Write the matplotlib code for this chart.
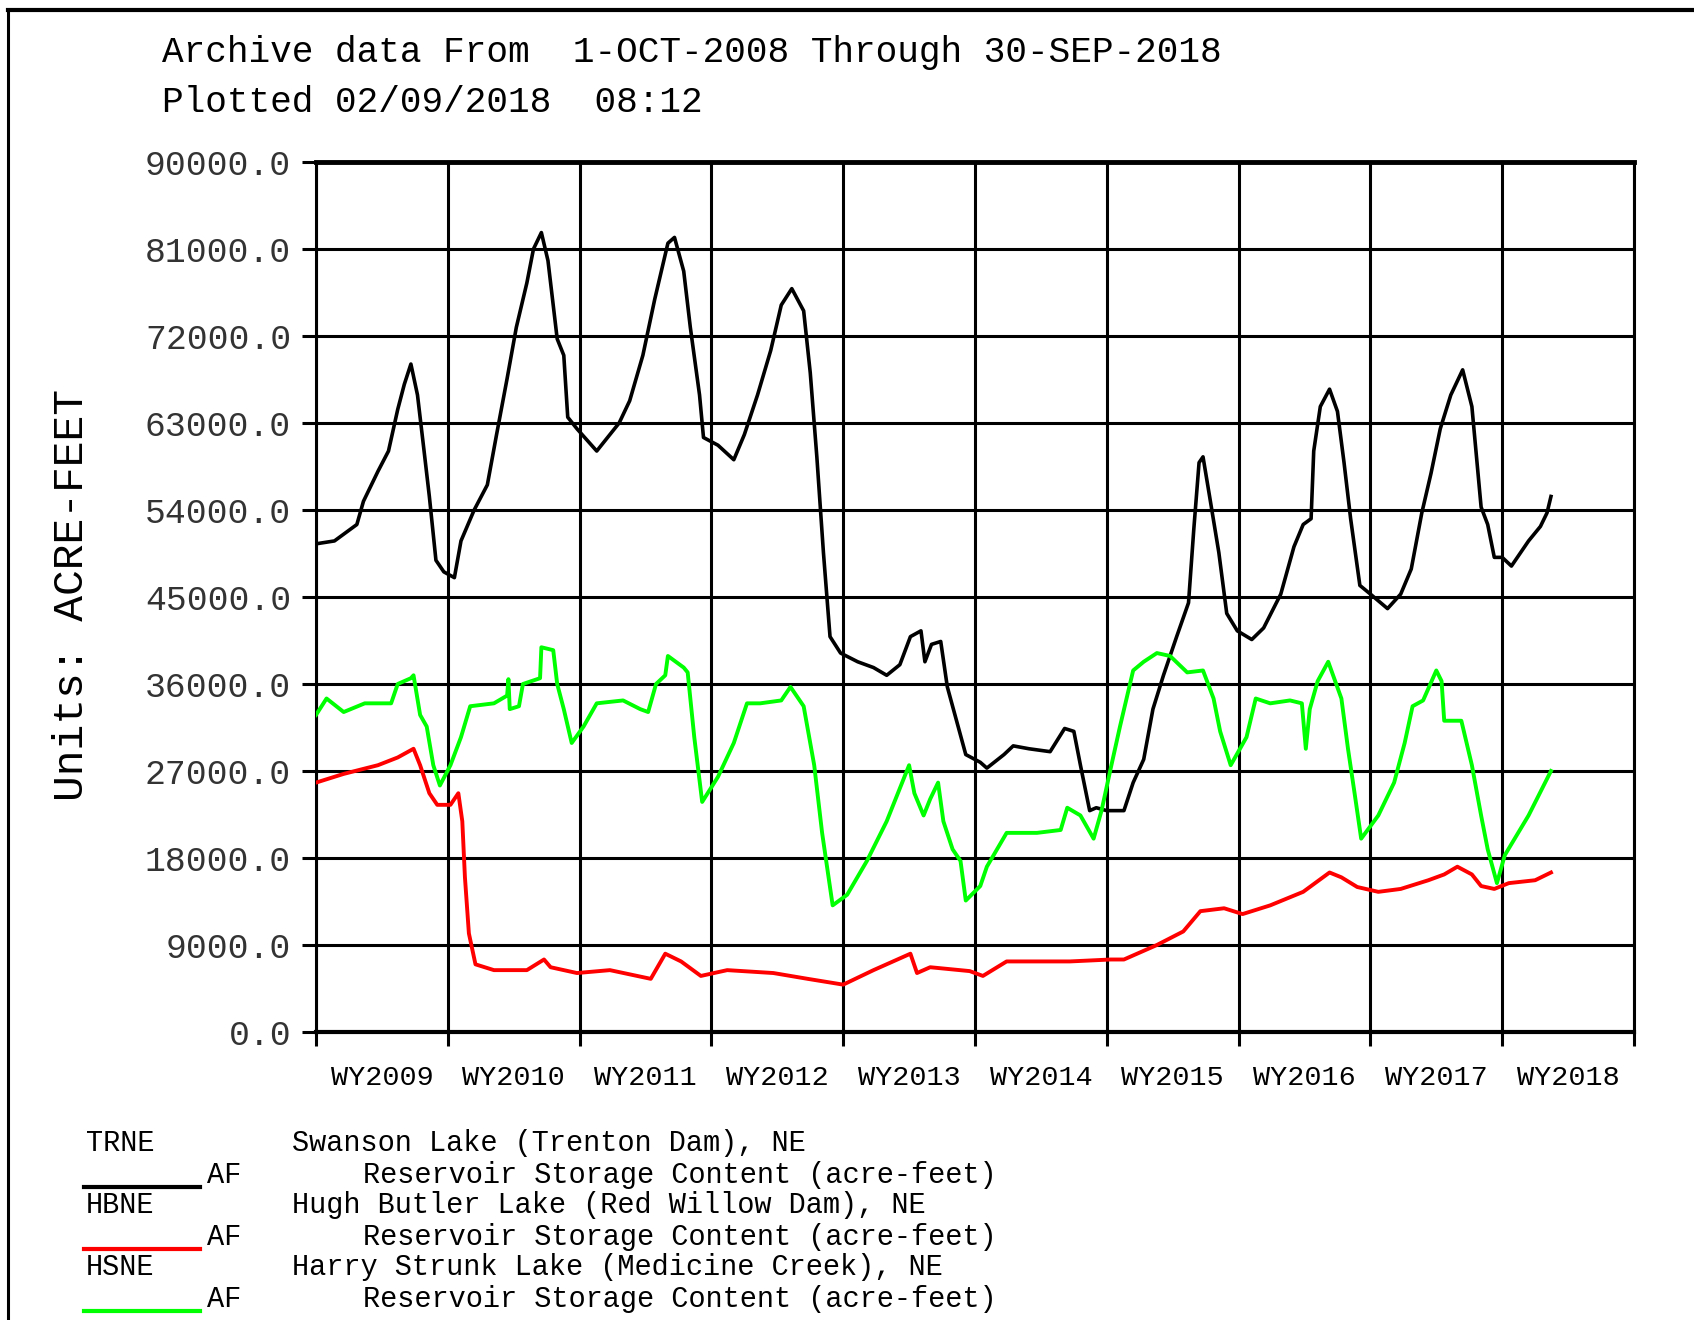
import matplotlib.pyplot as plt
from matplotlib.lines import Line2D

plt.rcParams['font.family'] = ['Liberation Mono', 'DejaVu Sans Mono']

# time in water years since 1-OCT-2008, storage in acre-feet
trne_t = [0, 0.14, 0.31, 0.36, 0.47, 0.55, 0.62, 0.67, 0.72, 0.77, 0.82, 0.86, 0.91, 0.97, 1.05,
          1.10, 1.20, 1.30, 1.37, 1.45, 1.52, 1.60, 1.65, 1.71, 1.76, 1.83, 1.88, 1.91, 1.98, 2.13,
          2.30, 2.38, 2.48, 2.57, 2.67, 2.72, 2.79, 2.84, 2.91, 2.94, 3.05, 3.17, 3.25, 3.35, 3.45,
          3.53, 3.61, 3.70, 3.75, 3.80, 3.85, 3.90, 3.98, 4.11, 4.23, 4.33, 4.43, 4.51, 4.59, 4.62,
          4.67, 4.74, 4.79, 4.86, 4.93, 5.04, 5.09, 5.22, 5.29, 5.41, 5.57, 5.68, 5.75, 5.80, 5.87,
          5.92, 6.00, 6.13, 6.20, 6.28, 6.35, 6.43, 6.53, 6.62, 6.66, 6.70, 6.73, 6.78, 6.85, 6.91,
          6.99, 7.10, 7.19, 7.32, 7.42, 7.49, 7.55, 7.57, 7.62, 7.69, 7.75, 7.80, 7.85, 7.92, 8.00,
          8.13, 8.23, 8.31, 8.39, 8.46, 8.53, 8.61, 8.70, 8.77, 8.84, 8.89, 8.94, 9.00, 9.07, 9.20,
          9.29, 9.34, 9.37]
trne_v = [50500, 50800, 52500, 54900, 58000, 60100, 64400, 67000, 69100, 65900, 60100, 55400, 48800, 47600, 47000,
          50800, 54000, 56600, 61800, 67600, 72900, 77500, 81000, 82700, 79800, 71700, 70000, 63600, 62400, 60100,
          63000, 65300, 70000, 75800, 81600, 82200, 78700, 72900, 65900, 61500, 60700, 59200, 61800, 65900, 70500,
          75200, 76900, 74600, 68200, 59500, 49600, 40900, 39200, 38300, 37700, 36900, 38000, 40900, 41500, 38300,
          40100, 40400, 35700, 32200, 28700, 27900, 27300, 28700, 29600, 29300, 29000, 31400, 31100, 27600, 22900,
          23200, 22900, 22900, 25800, 28200, 33400, 36900, 40900, 44400, 52000, 58900, 59500, 55400, 49600, 43300,
          41500, 40600, 41800, 45300, 50200, 52500, 53100, 60100, 64700, 66500, 64200, 58900, 53100, 46200, 45300,
          43800, 45300, 47900, 53700, 57800, 62400, 65900, 68500, 64700, 54300, 52500, 49100, 49100, 48200, 50800,
          52300, 53700, 55400]

hbne_t = [0, 0.21, 0.47, 0.62, 0.74, 0.79, 0.86, 0.92, 1.02, 1.08, 1.11, 1.13, 1.16, 1.21, 1.35,
          1.60, 1.73, 1.78, 1.98, 2.23, 2.54, 2.65, 2.77, 2.92, 3.12, 3.47, 3.73, 4.00, 4.23, 4.51,
          4.56, 4.66, 4.96, 5.06, 5.24, 5.72, 6.03, 6.13, 6.38, 6.58, 6.71, 6.89, 7.03, 7.24, 7.49,
          7.55, 7.69, 7.78, 7.90, 8.06, 8.23, 8.44, 8.56, 8.66, 8.77, 8.84, 8.94, 9.05, 9.25, 9.37]
hbne_v = [25800, 26700, 27600, 28400, 29300, 27600, 24700, 23500, 23500, 24700, 21800, 16000, 10200, 7000, 6400,
          6400, 7500, 6700, 6100, 6400, 5500, 8100, 7300, 5800, 6400, 6100, 5500, 4900, 6400, 8100,
          6100, 6700, 6300, 5800, 7300, 7300, 7500, 7500, 9000, 10400, 12500, 12800, 12200, 13100, 14500,
          15100, 16500, 16000, 15000, 14500, 14800, 15700, 16300, 17100, 16300, 15100, 14800, 15400, 15700, 16500]

hsne_t = [0, 0.08, 0.21, 0.37, 0.57, 0.62, 0.72, 0.74, 0.79, 0.84, 0.89, 0.94, 1.02, 1.10, 1.17,
          1.35, 1.45, 1.46, 1.47, 1.54, 1.57, 1.70, 1.71, 1.80, 1.83, 1.88, 1.94, 2.03, 2.13, 2.33,
          2.46, 2.52, 2.58, 2.65, 2.67, 2.79, 2.82, 2.87, 2.93, 3.05, 3.17, 3.27, 3.37, 3.53, 3.60,
          3.70, 3.78, 3.84, 3.92, 4.03, 4.18, 4.33, 4.50, 4.54, 4.61, 4.66, 4.72, 4.76, 4.83, 4.89,
          4.93, 5.04, 5.09, 5.24, 5.47, 5.65, 5.70, 5.80, 5.90, 5.96, 6.03, 6.10, 6.20, 6.28, 6.38,
          6.48, 6.61, 6.73, 6.81, 6.86, 6.94, 7.06, 7.13, 7.24, 7.39, 7.48, 7.51, 7.54, 7.60, 7.68,
          7.78, 7.83, 7.88, 7.93, 8.06, 8.18, 8.26, 8.32, 8.40, 8.50, 8.54, 8.56, 8.69, 8.77, 8.84,
          8.89, 8.96, 9.02, 9.20, 9.37]
hsne_v = [32800, 34500, 33100, 34000, 34000, 36000, 36600, 36900, 32800, 31600, 27600, 25500, 27600, 30500, 33700,
          34000, 34800, 36500, 33400, 33700, 36000, 36600, 39800, 39500, 36000, 33400, 29900, 31600, 34000, 34300,
          33400, 33100, 36000, 36900, 38900, 37700, 37200, 30500, 23800, 26400, 29900, 34000, 34000, 34300, 35700,
          33700, 27600, 20600, 13100, 14200, 17700, 21800, 27600, 24700, 22400, 24100, 25800, 21800, 18900, 17700,
          13600, 15100, 17100, 20600, 20600, 20900, 23200, 22400, 20000, 22900, 27300, 31600, 37400, 38300, 39200,
          38900, 37200, 37400, 34500, 31100, 27600, 30500, 34500, 34000, 34300, 34000, 29300, 33400, 36300, 38300,
          34500, 29300, 24700, 20000, 22400, 25800, 29900, 33700, 34300, 37400, 36300, 32200, 32200, 27600, 22400,
          18900, 15400, 18300, 22400, 27000]

year_labels = ['WY2009', 'WY2010', 'WY2011', 'WY2012', 'WY2013',
               'WY2014', 'WY2015', 'WY2016', 'WY2017', 'WY2018']
y_ticks = [0, 9000, 18000, 27000, 36000, 45000, 54000, 63000, 72000, 81000, 90000]

legend_rows = [
    ('TRNE', 'Swanson Lake (Trenton Dam), NE', 'black'),
    ('HBNE', 'Hugh Butler Lake (Red Willow Dam), NE', '#ff0000'),
    ('HSNE', 'Harry Strunk Lake (Medicine Creek), NE', '#00ff00'),
]

W, H = 1694, 1320
fig = plt.figure(figsize=(W / 100, H / 100), dpi=100)
ax = fig.add_axes([316 / W, 1 - 1032 / H, (1634 - 316) / W, (1032 - 162) / H])

ax.plot(trne_t, trne_v, color='black', lw=2.6, zorder=3)
ax.plot(hbne_t, hbne_v, color='#ff0000', lw=2.8, zorder=3)
ax.plot(hsne_t, hsne_v, color='#00ff00', lw=2.8, zorder=3)

ax.set_xlim(0, 10)
ax.set_ylim(0, 90000)
ax.set_yticks(y_ticks)
ax.set_yticklabels([f'{v:.1f}' for v in y_ticks], fontsize=25, color='#333333')
ax.set_xticks(range(11))
ax.set_xticklabels([])
ax.set_xticks([i + 0.5 for i in range(10)], minor=True)
ax.set_xticklabels(year_labels, minor=True, fontsize=20.5)
ax.tick_params(axis='x', which='minor', length=0, pad=24)
ax.tick_params(axis='both', which='major', length=10, width=2.2, color='black')
ax.tick_params(axis='y', pad=8)
ax.grid(True, which='major', color='black', lw=2.2, zorder=1)
for s in ax.spines.values():
    s.set_linewidth(2.2)
ax.spines['top'].set_linewidth(3.5)
ax.spines['bottom'].set_linewidth(3.0)

fig.text(162 / W, 1 - 53 / H, 'Archive data From  1-OCT-2008 Through 30-SEP-2018',
         fontsize=26, va='center', ha='left')
fig.text(162 / W, 1 - 102 / H, 'Plotted 02/09/2018  08:12',
         fontsize=26, va='center', ha='left')
fig.text(72 / W, 1 - 595 / H, 'Units: ACRE-FEET', fontsize=31, rotation=90,
         va='center', ha='center')

# legend block under the plot
for i, (code, name, col) in enumerate(legend_rows):
    y0 = 1143 + i * 62
    fig.text(86 / W, 1 - y0 / H, code, fontsize=20.6, va='center')
    fig.text(292 / W, 1 - y0 / H, name, fontsize=20.6, va='center')
    fig.text(207 / W, 1 - (y0 + 32) / H, 'AF', fontsize=20.6, va='center')
    fig.text(363 / W, 1 - (y0 + 32) / H, 'Reservoir Storage Content (acre-feet)',
             fontsize=20.6, va='center')
    fig.add_artist(Line2D([84 / W, 200 / W], [1 - (y0 + 44) / H] * 2, color=col, lw=3))

# page frame (top and left edges)
fig.add_artist(Line2D([8 / W, 1], [1 - 10 / H] * 2, color='black', lw=3))
fig.add_artist(Line2D([8 / W] * 2, [0, 1 - 10 / H], color='black', lw=2.2))

fig.savefig('out.png', dpi=100)
